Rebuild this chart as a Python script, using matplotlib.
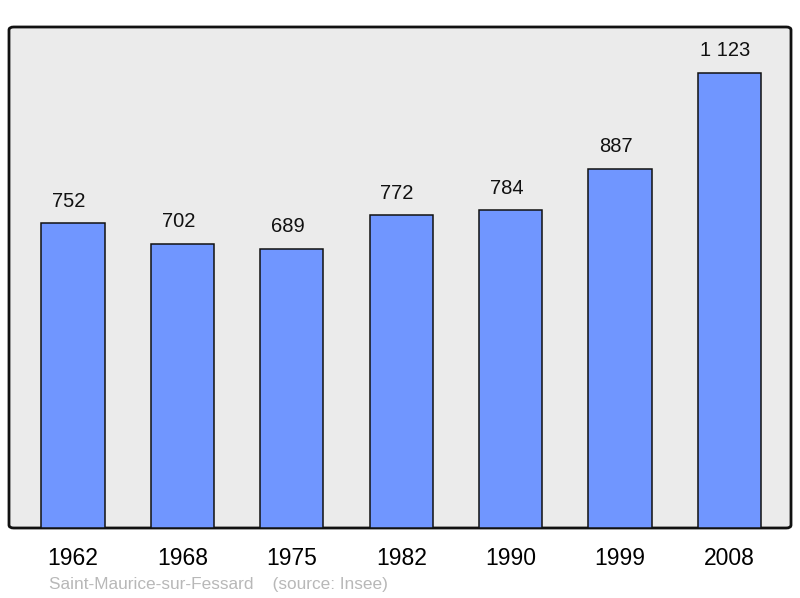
import matplotlib.pyplot as plt
from matplotlib.patches import FancyBboxPatch

years = ["1962", "1968", "1975", "1982", "1990", "1999", "2008"]
population = [752, 702, 689, 772, 784, 887, 1123]
value_labels = ["752", "702", "689", "772", "784", "887", "1 123"]

plt.rcParams['font.family'] = ['Liberation Sans', 'DejaVu Sans']

fig = plt.figure(figsize=(8, 5.98), dpi=100)
ax = fig.add_axes([9 / 800, 70 / 598, 782 / 800, 501 / 598])
ax.set_facecolor("none")

# grey panel with slightly rounded dark frame
frame = FancyBboxPatch((0, 0), 1, 1, boxstyle="round,pad=0,rounding_size=0.006",
                       transform=ax.transAxes, facecolor="#ebebeb", edgecolor="#111111",
                       linewidth=2, zorder=0, clip_on=False)
ax.add_patch(frame)

x = range(len(years))
ax.bar(x, population, width=0.576, color="#7096ff", edgecolor="#111111", linewidth=1.1, zorder=2)

for i, (v, lab) in enumerate(zip(population, value_labels)):
    ax.annotate(lab, (i, v), xytext=(-3, 16), textcoords="offset points",
                ha="center", va="center", fontsize=14.5, color="#111111")

ax.set_xlim(-0.585, 6.563)
ax.set_ylim(0, 1237)
ax.set_xticks(list(x))
ax.set_xticklabels(years, fontsize=16.5)
ax.tick_params(axis="x", length=0, pad=14)
ax.set_yticks([])
for s in ax.spines.values():
    s.set_visible(False)

fig.text(49 / 800, 1 - 584 / 598, "Saint-Maurice-sur-Fessard    (source: Insee)",
         fontsize=12.4, color="#b8b8b8", ha="left", va="center")

fig.savefig("out.png", dpi=100)
